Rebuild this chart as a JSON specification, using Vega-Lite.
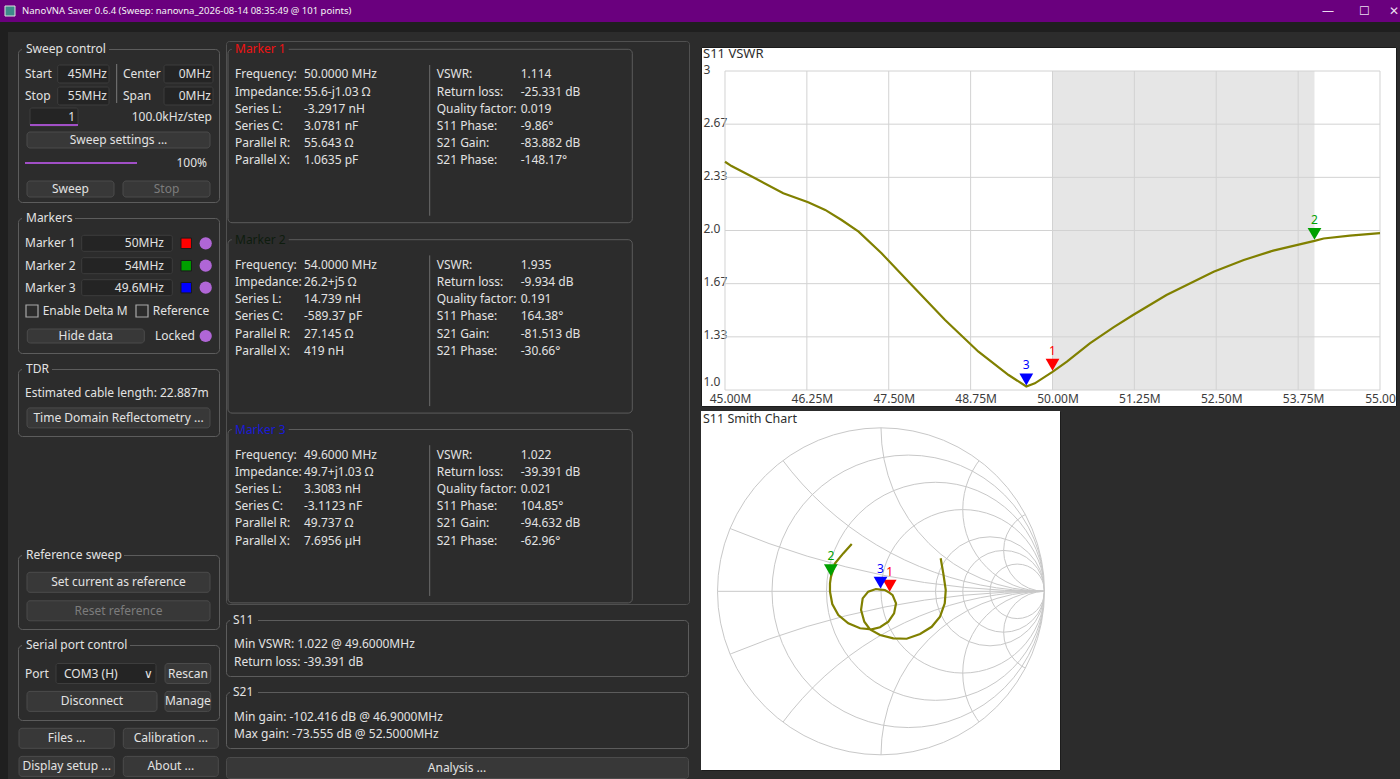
{
"$schema": "https://vega.github.io/schema/vega-lite/v6.json",
"background": "#2c2c2c",
"padding": 0,
"bounds": "full",
"spacing": 0,
"config": {
  "view": {"stroke": "#5c5c5c", "cornerRadius": 4, "strokeWidth": 1},
  "text": {"font": "Segoe UI, Noto Sans, sans-serif", "fontSize": 12, "baseline": "middle", "color": "#e2e2e2"},
  "title": {"font": "Segoe UI, Noto Sans, sans-serif", "fontWeight": "normal"},
  "axis": {"labelFont": "Segoe UI, Noto Sans, sans-serif"}
},
"datasets": {
  "vswr": [
    {"f":45.0,"v":2.431},{"f":45.1,"v":2.404},{"f":45.46,"v":2.327},{"f":45.89,"v":2.233},{"f":46.27,"v":2.177},
    {"f":46.53,"v":2.129},{"f":46.78,"v":2.066},{"f":47.04,"v":1.993},{"f":47.39,"v":1.857},{"f":47.85,"v":1.658},
    {"f":48.36,"v":1.439},{"f":48.87,"v":1.24},{"f":49.33,"v":1.094},{"f":49.6,"v":1.022},{"f":49.73,"v":1.042},
    {"f":50.0,"v":1.114},{"f":50.22,"v":1.178},{"f":50.57,"v":1.293},{"f":50.93,"v":1.393},{"f":51.23,"v":1.47},
    {"f":51.74,"v":1.596},{"f":52.05,"v":1.658},{"f":52.46,"v":1.742},{"f":52.92,"v":1.815},{"f":53.37,"v":1.874},
    {"f":54.0,"v":1.935},{"f":54.14,"v":1.95},{"f":54.54,"v":1.968},{"f":55.0,"v":1.984}
  ],
  "mk": [
    {"id":"1","f":50.0,"v":1.114,"gr":0.053,"gi":-0.0092},
    {"id":"2","f":54.0,"v":1.935,"gr":-0.3067,"gi":0.0857},
    {"id":"3","f":49.6,"v":1.022,"gr":-0.003,"gi":0.0103}
  ],
  "band": [{"lo":50,"hi":54}],
  "xt": [{"f":45},{"f":46.25},{"f":47.5},{"f":48.75},{"f":50},{"f":51.25},{"f":52.5},{"f":53.75},{"f":55}],
  "yt": [{"v":1},{"v":1.3333},{"v":1.6667},{"v":2},{"v":2.3333},{"v":2.6667},{"v":3}],
  "sgrid": [
    {"cx":0,"cy":0,"rho":1,"kind":"o"},
    {"cx":0.16667,"cy":0,"rho":0.83333,"kind":"r"},
    {"cx":0.33333,"cy":0,"rho":0.66667,"kind":"r"},
    {"cx":0.5,"cy":0,"rho":0.5,"kind":"r"},
    {"cx":0.66667,"cy":0,"rho":0.33333,"kind":"r"},
    {"cx":0.75,"cy":0,"rho":0.25,"kind":"r"},
    {"cx":0.83333,"cy":0,"rho":0.16667,"kind":"r"},
    {"cx":1,"cy":5,"rho":5,"kind":"x"},{"cx":1,"cy":-5,"rho":5,"kind":"x"},
    {"cx":1,"cy":2,"rho":2,"kind":"x"},{"cx":1,"cy":-2,"rho":2,"kind":"x"},
    {"cx":1,"cy":1,"rho":1,"kind":"x"},{"cx":1,"cy":-1,"rho":1,"kind":"x"},
    {"cx":1,"cy":0.5,"rho":0.5,"kind":"x"},{"cx":1,"cy":-0.5,"rho":0.5,"kind":"x"},
    {"cx":1,"cy":0.25,"rho":0.25,"kind":"x"},{"cx":1,"cy":-0.25,"rho":0.25,"kind":"x"}
  ],
  "sm": [
    {"i":1,"gr":0.365,"gi":0.202},{"i":2,"gr":0.381,"gi":0.11},{"i":3,"gr":0.396,"gi":0.008},{"i":4,"gr":0.39,"gi":-0.073},
    {"i":5,"gr":0.361,"gi":-0.155},{"i":6,"gr":0.31,"gi":-0.217},{"i":7,"gr":0.239,"gi":-0.261},{"i":8,"gr":0.157,"gi":-0.29},
    {"i":9,"gr":0.075,"gi":-0.288},{"i":10,"gr":-0.006,"gi":-0.267},{"i":11,"gr":-0.067,"gi":-0.233},{"i":12,"gr":-0.102,"gi":-0.186},
    {"i":13,"gr":-0.122,"gi":-0.114},{"i":14,"gr":-0.112,"gi":-0.043},{"i":15,"gr":-0.078,"gi":-0.002},{"i":16,"gr":-0.031,"gi":0.014},
    {"i":17,"gr":-0.003,"gi":0.0103},{"i":18,"gr":0.024,"gi":0.008},{"i":19,"gr":0.053,"gi":-0.0092},{"i":20,"gr":0.071,"gi":-0.023},
    {"i":21,"gr":0.092,"gi":-0.073},{"i":22,"gr":0.08,"gi":-0.135},{"i":23,"gr":0.045,"gi":-0.186},{"i":24,"gr":-0.006,"gi":-0.22},
    {"i":25,"gr":-0.057,"gi":-0.233},{"i":26,"gr":-0.128,"gi":-0.226},{"i":27,"gr":-0.2,"gi":-0.196},{"i":28,"gr":-0.261,"gi":-0.145},
    {"i":29,"gr":-0.298,"gi":-0.078},{"i":30,"gr":-0.312,"gi":-0.002},{"i":31,"gr":-0.312,"gi":0.049},{"i":32,"gr":-0.3067,"gi":0.0857},
    {"i":33,"gr":-0.281,"gi":0.171},{"i":34,"gr":-0.231,"gi":0.232},{"i":35,"gr":-0.179,"gi":0.289}
  ],
  "mpanel": [
    {"m":1,"k":"box","c":0,"c2":1,"r":0,"r2":9},
    {"m":1,"k":"tl","c":0,"c2":1,"r":0,"t":"Marker 1"},
    {"m":1,"k":"dv","c":0,"r":7,"r2":8},
    {"m":1,"k":"f","c":0,"r":1,"lab":"Frequency:","val":"50.0000 MHz"},
    {"m":1,"k":"f","c":0,"r":2,"lab":"Impedance:","val":"55.6-j1.03 Ω"},
    {"m":1,"k":"f","c":0,"r":3,"lab":"Series L:","val":"-3.2917 nH"},
    {"m":1,"k":"f","c":0,"r":4,"lab":"Series C:","val":"3.0781 nF"},
    {"m":1,"k":"f","c":0,"r":5,"lab":"Parallel R:","val":"55.643 Ω"},
    {"m":1,"k":"f","c":0,"r":6,"lab":"Parallel X:","val":"1.0635 pF"},
    {"m":1,"k":"f","c":1,"r":1,"lab":"VSWR:","val":"1.114"},
    {"m":1,"k":"f","c":1,"r":2,"lab":"Return loss:","val":"-25.331 dB"},
    {"m":1,"k":"f","c":1,"r":3,"lab":"Quality factor:","val":"0.019"},
    {"m":1,"k":"f","c":1,"r":4,"lab":"S11 Phase:","val":"-9.86°"},
    {"m":1,"k":"f","c":1,"r":5,"lab":"S21 Gain:","val":"-83.882 dB"},
    {"m":1,"k":"f","c":1,"r":6,"lab":"S21 Phase:","val":"-148.17°"},
    {"m":2,"k":"box","c":0,"c2":1,"r":10,"r2":19},
    {"m":2,"k":"tl","c":0,"c2":1,"r":10,"t":"Marker 2"},
    {"m":2,"k":"dv","c":0,"r":17,"r2":18},
    {"m":2,"k":"f","c":0,"r":11,"lab":"Frequency:","val":"54.0000 MHz"},
    {"m":2,"k":"f","c":0,"r":12,"lab":"Impedance:","val":"26.2+j5 Ω"},
    {"m":2,"k":"f","c":0,"r":13,"lab":"Series L:","val":"14.739 nH"},
    {"m":2,"k":"f","c":0,"r":14,"lab":"Series C:","val":"-589.37 pF"},
    {"m":2,"k":"f","c":0,"r":15,"lab":"Parallel R:","val":"27.145 Ω"},
    {"m":2,"k":"f","c":0,"r":16,"lab":"Parallel X:","val":"419 nH"},
    {"m":2,"k":"f","c":1,"r":11,"lab":"VSWR:","val":"1.935"},
    {"m":2,"k":"f","c":1,"r":12,"lab":"Return loss:","val":"-9.934 dB"},
    {"m":2,"k":"f","c":1,"r":13,"lab":"Quality factor:","val":"0.191"},
    {"m":2,"k":"f","c":1,"r":14,"lab":"S11 Phase:","val":"164.38°"},
    {"m":2,"k":"f","c":1,"r":15,"lab":"S21 Gain:","val":"-81.513 dB"},
    {"m":2,"k":"f","c":1,"r":16,"lab":"S21 Phase:","val":"-30.66°"},
    {"m":3,"k":"box","c":0,"c2":1,"r":20,"r2":29},
    {"m":3,"k":"tl","c":0,"c2":1,"r":20,"t":"Marker 3"},
    {"m":3,"k":"dv","c":0,"r":27,"r2":28},
    {"m":3,"k":"f","c":0,"r":21,"lab":"Frequency:","val":"49.6000 MHz"},
    {"m":3,"k":"f","c":0,"r":22,"lab":"Impedance:","val":"49.7+j1.03 Ω"},
    {"m":3,"k":"f","c":0,"r":23,"lab":"Series L:","val":"3.3083 nH"},
    {"m":3,"k":"f","c":0,"r":24,"lab":"Series C:","val":"-3.1123 nF"},
    {"m":3,"k":"f","c":0,"r":25,"lab":"Parallel R:","val":"49.737 Ω"},
    {"m":3,"k":"f","c":0,"r":26,"lab":"Parallel X:","val":"7.6956 µH"},
    {"m":3,"k":"f","c":1,"r":21,"lab":"VSWR:","val":"1.022"},
    {"m":3,"k":"f","c":1,"r":22,"lab":"Return loss:","val":"-39.391 dB"},
    {"m":3,"k":"f","c":1,"r":23,"lab":"Quality factor:","val":"0.021"},
    {"m":3,"k":"f","c":1,"r":24,"lab":"S11 Phase:","val":"104.85°"},
    {"m":3,"k":"f","c":1,"r":25,"lab":"S21 Gain:","val":"-94.632 dB"},
    {"m":3,"k":"f","c":1,"r":26,"lab":"S21 Phase:","val":"-62.96°"}
  ]
},
"vconcat": [
  {
    "width": 1400, "height": 22,
    "view": {"fill": "#6a007e", "stroke": null, "cornerRadius": 0},
    "data": {"values": [
      {"s":0,"k":"icon"},
      {"s":1,"k":"title","t":"NanoVNA Saver 0.6.4 (Sweep: nanovna_2026-08-14 08:35:49 @ 101 points)"},
      {"s":2,"k":"ctl","t":"—"},
      {"s":3,"k":"ctl","t":"☐"},
      {"s":4,"k":"ctl","t":"✕"}
    ]},
    "encoding": {"x": {"field":"s","type":"quantitative","axis":null,"scale":{"domain":[0,1,2,3,4],"range":[10,22,1328,1364,1394],"nice":false,"zero":false}}},
    "layer": [
      {"transform":[{"filter":"datum.k=='icon'"}],"mark":{"type":"point","shape":"square","filled":true,"size":100,"color":"#3d8a8a","stroke":"#e0e0e0","strokeWidth":1,"opacity":1}},
      {"transform":[{"filter":"datum.k=='title'"}],"mark":{"type":"text","align":"left","fontSize":9.5,"color":"#f4f4f4"},"encoding":{"text":{"field":"t"}}},
      {"transform":[{"filter":"datum.k=='ctl'"}],"mark":{"type":"text","align":"center","fontSize":12,"color":"#eadcf0"},"encoding":{"text":{"field":"t"}}}
    ]
  },
  {"width": 1400, "height": 10, "view": {"fill": "#1f1f1f", "stroke": null, "cornerRadius": 0}, "data": {"values": []}, "mark": "point"},
  {
    "hconcat": [
      {"width": 8, "height": 747, "view": {"fill": "#1f1f1f", "stroke": null, "cornerRadius": 0}, "data": {"values": []}, "mark": "point"},
      {"width": 9, "height": 1, "view": {"stroke": null}, "data": {"values": []}, "mark": "point"},
      {
        "vconcat": [
          {"width": 1, "height": 17, "view": {"stroke": null}, "data": {"values": []}, "mark": "point"},
          {
            "width": 201, "height": 153,
            "data": {"values": [
              {"k":"tb","a":21,"b":22,"y":0},
              {"k":"tl","t":"Sweep control","a":23,"y":0},
              {"k":"l","t":"Start","a":0,"y":1},
              {"k":"l","t":"Stop","a":0,"y":2},
              {"k":"l","t":"Center","a":5,"y":1},
              {"k":"l","t":"Span","a":5,"y":2},
              {"k":"inp","a":1,"b":2,"y":1},
              {"k":"inp","a":1,"b":2,"y":2},
              {"k":"inp","a":6,"b":7,"y":1},
              {"k":"inp","a":6,"b":7,"y":2},
              {"k":"inp","a":9,"b":10,"y":3},
              {"k":"r","t":"45MHz","b":3,"y":1},
              {"k":"r","t":"55MHz","b":3,"y":2},
              {"k":"r","t":"0MHz","b":8,"y":1},
              {"k":"r","t":"0MHz","b":8,"y":2},
              {"k":"r","t":"1","b":11,"y":3},
              {"k":"r","t":"100.0kHz/step","b":12,"y":3},
              {"k":"r","t":"100%","b":17,"y":5},
              {"k":"vl","a":4,"y":7,"y2":8},
              {"k":"pl","a":9,"b":10,"y":9},
              {"k":"pl","a":0,"b":16,"y":5},
              {"k":"btn","t":"Sweep settings ...","a":13,"b":14,"c":15,"y":4},
              {"k":"btn","t":"Sweep","a":13,"b":18,"c":19,"y":6},
              {"k":"btnd","t":"Stop","a":5,"b":14,"c":20,"y":6}
            ]},
            "encoding": {
              "x": {"field":"a","type":"quantitative","axis":null,"scale":{"nice":false,"zero":false,"domain":[0,1,2,3,4,5,6,7,8,9,10,11,12,13,14,15,16,17,18,19,20,21,22,23],"range":[7,39.7,91,89,98.7,105,146,195,193,12,60,57,194,9,192,100.5,119,189,96,52.5,148.5,4,91,8]}},
              "y": {"field":"y","type":"quantitative","axis":null,"scale":{"nice":false,"zero":false,"domain":[0,1,2,3,4,5,6,7,8,9],"range":[0,25,47,68,91,114,140,15,54,76]}}
            },
            "layer": [
              {"transform":[{"filter":"datum.k=='tb'"}],"mark":{"type":"rect","fill":"#2c2c2c","yOffset":-3,"y2Offset":3},"encoding":{"x2":{"field":"b"},"y2":{"field":"y"}}},
              {"transform":[{"filter":"datum.k=='inp'"}],"mark":{"type":"rect","fill":"#242424","stroke":"#3d3d3d","cornerRadius":2,"yOffset":-9,"y2Offset":9},"encoding":{"x2":{"field":"b"},"y2":{"field":"y"}}},
              {"transform":[{"filter":"datum.k=='btn'||datum.k=='btnd'"}],"mark":{"type":"rect","fill":"#383838","stroke":"#4b4b4b","cornerRadius":3,"yOffset":-8,"y2Offset":8},"encoding":{"x2":{"field":"b"},"y2":{"field":"y"}}},
              {"transform":[{"filter":"datum.k=='vl'"}],"mark":{"type":"rule","color":"#7a7a7a"},"encoding":{"y2":{"field":"y2"}}},
              {"transform":[{"filter":"datum.k=='pl'"}],"mark":{"type":"rule","color":"#a14fc6","strokeWidth":2},"encoding":{"x2":{"field":"b"}}},
              {"transform":[{"filter":"datum.k=='l'||datum.k=='tl'"}],"mark":{"type":"text","align":"left"},"encoding":{"text":{"field":"t"}}},
              {"transform":[{"filter":"datum.k=='r'"}],"mark":{"type":"text","align":"right"},"encoding":{"x":{"field":"b","type":"quantitative","axis":null},"text":{"field":"t"}}},
              {"transform":[{"filter":"datum.k=='btn'||datum.k=='btnd'"}],"mark":{"type":"text","align":"center"},"encoding":{"x":{"field":"c","type":"quantitative","axis":null},"text":{"field":"t"},"color":{"condition":{"test":"datum.k=='btnd'","value":"#7c7c7c"},"value":"#e2e2e2"}}}
            ]
          },
          {"width": 1, "height": 16, "view": {"stroke": null}, "data": {"values": []}, "mark": "point"},
          {
            "width": 201, "height": 135,
            "data": {"values": [
              {"k":"tb","a":14,"b":15,"y":0},
              {"k":"tl","t":"Markers","a":16,"y":0},
              {"k":"l","t":"Marker 1","a":0,"y":1},
              {"k":"l","t":"Marker 2","a":0,"y":2},
              {"k":"l","t":"Marker 3","a":0,"y":3},
              {"k":"inp","a":1,"b":2,"y":1},
              {"k":"inp","a":1,"b":2,"y":2},
              {"k":"inp","a":1,"b":2,"y":3},
              {"k":"r","t":"50MHz","b":3,"y":1},
              {"k":"r","t":"54MHz","b":3,"y":2},
              {"k":"r","t":"49.6MHz","b":3,"y":3},
              {"k":"sq","a":4,"y":1,"m":"1"},
              {"k":"sq","a":4,"y":2,"m":"2"},
              {"k":"sq","a":4,"y":3,"m":"3"},
              {"k":"ci","a":5,"y":1},
              {"k":"ci","a":5,"y":2},
              {"k":"ci","a":5,"y":3},
              {"k":"ci","a":5,"y":5},
              {"k":"cb","a":6,"y":4},
              {"k":"cb","a":8,"y":4},
              {"k":"l","t":"Enable Delta M","a":7,"y":4},
              {"k":"l","t":"Reference","a":9,"y":4},
              {"k":"btn","t":"Hide data","a":10,"b":11,"c":12,"y":5},
              {"k":"l","t":"Locked","a":13,"y":5}
            ]},
            "encoding": {
              "x": {"field":"a","type":"quantitative","axis":null,"scale":{"nice":false,"zero":false,"domain":[0,1,2,3,4,5,6,7,8,9,10,11,12,13,14,15,16],"range":[7,63.7,154.3,146,168.2,187.7,14,24.7,124,134.7,9.3,126.3,67.8,137,4,57,8]}},
              "y": {"field":"y","type":"quantitative","axis":null,"scale":{"nice":false,"zero":false,"domain":[0,1,2,3,4,5],"range":[0,25.3,47.7,69.7,93,118]}}
            },
            "layer": [
              {"transform":[{"filter":"datum.k=='tb'"}],"mark":{"type":"rect","fill":"#2c2c2c","yOffset":-3,"y2Offset":3},"encoding":{"x2":{"field":"b"},"y2":{"field":"y"}}},
              {"transform":[{"filter":"datum.k=='inp'"}],"mark":{"type":"rect","fill":"#242424","stroke":"#3d3d3d","cornerRadius":2,"yOffset":-8,"y2Offset":8},"encoding":{"x2":{"field":"b"},"y2":{"field":"y"}}},
              {"transform":[{"filter":"datum.k=='btn'"}],"mark":{"type":"rect","fill":"#383838","stroke":"#4b4b4b","cornerRadius":3,"yOffset":-7,"y2Offset":7},"encoding":{"x2":{"field":"b"},"y2":{"field":"y"}}},
              {"transform":[{"filter":"datum.k=='sq'"}],"mark":{"type":"point","shape":"square","filled":true,"size":110,"stroke":"#1a1a1a","strokeWidth":1,"opacity":1},"encoding":{"color":{"field":"m","type":"nominal","legend":null,"scale":{"domain":["1","2","3"],"range":["#ff0000","#00a000","#0000ff"]}}}},
              {"transform":[{"filter":"datum.k=='ci'"}],"mark":{"type":"point","shape":"circle","filled":true,"size":150,"color":"#b066d6","opacity":1}},
              {"transform":[{"filter":"datum.k=='cb'"}],"mark":{"type":"point","shape":"square","filled":false,"size":144,"color":"#a8a8a8","strokeWidth":1.2,"opacity":1}},
              {"transform":[{"filter":"datum.k=='l'||datum.k=='tl'"}],"mark":{"type":"text","align":"left"},"encoding":{"text":{"field":"t"}}},
              {"transform":[{"filter":"datum.k=='r'"}],"mark":{"type":"text","align":"right"},"encoding":{"x":{"field":"b","type":"quantitative","axis":null},"text":{"field":"t"}}},
              {"transform":[{"filter":"datum.k=='btn'"}],"mark":{"type":"text","align":"center"},"encoding":{"x":{"field":"c","type":"quantitative","axis":null},"text":{"field":"t"}}}
            ]
          },
          {"width": 1, "height": 16, "view": {"stroke": null}, "data": {"values": []}, "mark": "point"},
          {
            "width": 201, "height": 67,
            "data": {"values": [
              {"k":"tb","a":4,"b":5,"y":0},
              {"k":"tl","t":"TDR","a":6,"y":0},
              {"k":"l","t":"Estimated cable length: 22.887m","a":0,"y":1},
              {"k":"btn","t":"Time Domain Reflectometry ...","a":1,"b":2,"c":3,"y":2}
            ]},
            "encoding": {
              "x": {"field":"a","type":"quantitative","axis":null,"scale":{"nice":false,"zero":false,"domain":[0,1,2,3,4,5,6],"range":[7,9,192,100.5,4,34,8]}},
              "y": {"field":"y","type":"quantitative","axis":null,"scale":{"nice":false,"zero":false,"domain":[0,1,2],"range":[0,24.3,48.9]}}
            },
            "layer": [
              {"transform":[{"filter":"datum.k=='tb'"}],"mark":{"type":"rect","fill":"#2c2c2c","yOffset":-3,"y2Offset":3},"encoding":{"x2":{"field":"b"},"y2":{"field":"y"}}},
              {"transform":[{"filter":"datum.k=='btn'"}],"mark":{"type":"rect","fill":"#383838","stroke":"#4b4b4b","cornerRadius":3,"yOffset":-10,"y2Offset":10},"encoding":{"x2":{"field":"b"},"y2":{"field":"y"}}},
              {"transform":[{"filter":"datum.k=='l'||datum.k=='tl'"}],"mark":{"type":"text","align":"left"},"encoding":{"text":{"field":"t"}}},
              {"transform":[{"filter":"datum.k=='btn'"}],"mark":{"type":"text","align":"center"},"encoding":{"x":{"field":"c","type":"quantitative","axis":null},"text":{"field":"t"}}}
            ]
          },
          {"width": 1, "height": 119, "view": {"stroke": null}, "data": {"values": []}, "mark": "point"},
          {
            "width": 201, "height": 74,
            "data": {"values": [
              {"k":"tb","a":3,"b":4,"y":0},
              {"k":"tl","t":"Reference sweep","a":5,"y":0},
              {"k":"btn","t":"Set current as reference","a":0,"b":1,"c":2,"y":1},
              {"k":"btnd","t":"Reset reference","a":0,"b":1,"c":2,"y":2}
            ]},
            "encoding": {
              "x": {"field":"a","type":"quantitative","axis":null,"scale":{"nice":false,"zero":false,"domain":[0,1,2,3,4,5],"range":[9,192,100.5,4,106,8]}},
              "y": {"field":"y","type":"quantitative","axis":null,"scale":{"nice":false,"zero":false,"domain":[0,1,2],"range":[0,27.3,55.8]}}
            },
            "layer": [
              {"transform":[{"filter":"datum.k=='tb'"}],"mark":{"type":"rect","fill":"#2c2c2c","yOffset":-3,"y2Offset":3},"encoding":{"x2":{"field":"b"},"y2":{"field":"y"}}},
              {"transform":[{"filter":"datum.k=='btn'||datum.k=='btnd'"}],"mark":{"type":"rect","fill":"#383838","stroke":"#4b4b4b","cornerRadius":3,"yOffset":-10,"y2Offset":10},"encoding":{"x2":{"field":"b"},"y2":{"field":"y"}}},
              {"transform":[{"filter":"datum.k=='tl'"}],"mark":{"type":"text","align":"left"},"encoding":{"text":{"field":"t"}}},
              {"transform":[{"filter":"datum.k=='btn'||datum.k=='btnd'"}],"mark":{"type":"text","align":"center"},"encoding":{"x":{"field":"c","type":"quantitative","axis":null},"text":{"field":"t"},"color":{"condition":{"test":"datum.k=='btnd'","value":"#7c7c7c"},"value":"#e2e2e2"}}}
            ]
          },
          {"width": 1, "height": 16, "view": {"stroke": null}, "data": {"values": []}, "mark": "point"},
          {
            "width": 201, "height": 75,
            "data": {"values": [
              {"k":"tb","a":11,"b":12,"y":0},
              {"k":"tl","t":"Serial port control","a":13,"y":0},
              {"k":"l","t":"Port","a":0,"y":1},
              {"k":"inp","a":1,"b":2,"y":1},
              {"k":"l","t":"COM3 (H)","a":3,"y":1},
              {"k":"c","t":"∨","c":4,"y":1},
              {"k":"btn","t":"Rescan","a":5,"b":6,"c":7,"y":1},
              {"k":"btn","t":"Disconnect","a":8,"b":9,"c":10,"y":2},
              {"k":"btn","t":"Manage","a":5,"b":6,"c":7,"y":2}
            ]},
            "encoding": {
              "x": {"field":"a","type":"quantitative","axis":null,"scale":{"nice":false,"zero":false,"domain":[0,1,2,3,4,5,6,7,8,9,10,11,12,13],"range":[7,38,138,46,130,147,192.7,169.9,9,139,74,4,112,8]}},
              "y": {"field":"y","type":"quantitative","axis":null,"scale":{"nice":false,"zero":false,"domain":[0,1,2],"range":[0,28.5,56.4]}}
            },
            "layer": [
              {"transform":[{"filter":"datum.k=='tb'"}],"mark":{"type":"rect","fill":"#2c2c2c","yOffset":-3,"y2Offset":3},"encoding":{"x2":{"field":"b"},"y2":{"field":"y"}}},
              {"transform":[{"filter":"datum.k=='inp'"}],"mark":{"type":"rect","fill":"#242424","stroke":"#3d3d3d","cornerRadius":2,"yOffset":-10,"y2Offset":10},"encoding":{"x2":{"field":"b"},"y2":{"field":"y"}}},
              {"transform":[{"filter":"datum.k=='btn'"}],"mark":{"type":"rect","fill":"#383838","stroke":"#4b4b4b","cornerRadius":3,"yOffset":-10,"y2Offset":10},"encoding":{"x2":{"field":"b"},"y2":{"field":"y"}}},
              {"transform":[{"filter":"datum.k=='l'||datum.k=='tl'"}],"mark":{"type":"text","align":"left"},"encoding":{"text":{"field":"t"}}},
              {"transform":[{"filter":"datum.k=='btn'||datum.k=='c'"}],"mark":{"type":"text","align":"center"},"encoding":{"x":{"field":"c","type":"quantitative","axis":null},"text":{"field":"t"}}}
            ]
          },
          {"width": 1, "height": 8, "view": {"stroke": null}, "data": {"values": []}, "mark": "point"},
          {
            "width": 201, "height": 49,
            "view": {"stroke": null},
            "data": {"values": [
              {"k":"btn","t":"Files ...","a":0,"b":1,"c":2,"y":0},
              {"k":"btn","t":"Calibration ...","a":3,"b":4,"c":5,"y":0},
              {"k":"btn","t":"Display setup ...","a":0,"b":1,"c":2,"y":1},
              {"k":"btn","t":"About ...","a":3,"b":4,"c":5,"y":1}
            ]},
            "encoding": {
              "x": {"field":"a","type":"quantitative","axis":null,"scale":{"nice":false,"zero":false,"domain":[0,1,2,3,4,5],"range":[1,96.3,48.7,105.3,200.3,152.8]}},
              "y": {"field":"y","type":"quantitative","axis":null,"scale":{"nice":false,"zero":false,"domain":[0,1],"range":[10.3,38.4]}}
            },
            "layer": [
              {"mark":{"type":"rect","fill":"#383838","stroke":"#4b4b4b","cornerRadius":3,"yOffset":-10,"y2Offset":10},"encoding":{"x2":{"field":"b"},"y2":{"field":"y"}}},
              {"mark":{"type":"text","align":"center"},"encoding":{"x":{"field":"c","type":"quantitative","axis":null},"text":{"field":"t"}}}
            ]
          }
        ],
        "spacing": 0, "bounds": "flush"
      },
      {"width": 5, "height": 1, "view": {"stroke": null}, "data": {"values": []}, "mark": "point"},
      {
        "vconcat": [
          {"width": 1, "height": 9, "view": {"stroke": null}, "data": {"values": []}, "mark": "point"},
          {
            "width": 463, "height": 563,
            "view": {"stroke": "#505050", "cornerRadius": 3},
            "data": {"name": "mpanel"},
            "encoding": {"y": {"field":"r","type":"quantitative","axis":null,"scale":{"nice":false,"zero":false,"domain":[0,1,6,7,8,9,10,11,16,17,18,19,20,21,26,27,28,29],"range":[8.3,33.3,119.3,24,174.7,181.7,198.7,223.7,309.7,214.4,365.1,372.1,388.5,413.5,499.5,404.2,554.9,561.9]}}},
            "layer": [
              {"transform":[{"filter":"datum.k=='box'"}],"mark":{"type":"rect","fill":"transparent","stroke":"#5c5c5c","strokeWidth":1,"cornerRadius":4},"encoding":{"x":{"field":"c","type":"quantitative","axis":null,"scale":{"domain":[0,1],"range":[2,406.3],"nice":false,"zero":false}},"x2":{"field":"c2"},"y2":{"field":"r2"}}},
              {"transform":[{"filter":"datum.k=='tl'"}],"mark":{"type":"rect","fill":"#2c2c2c","yOffset":-3,"y2Offset":3},"encoding":{"x":{"field":"c","type":"quantitative","axis":null,"scale":{"domain":[0,1],"range":[5.7,62.7],"nice":false,"zero":false}},"x2":{"field":"c2"},"y2":{"field":"r"}}},
              {"transform":[{"filter":"datum.k=='tl'"}],"mark":{"type":"text","align":"left"},"encoding":{"x":{"field":"c","type":"quantitative","axis":null,"scale":{"domain":[0,1],"range":[9,210.7],"nice":false,"zero":false}},"text":{"field":"t"},"color":{"condition":[{"test":"datum.m==1","value":"#f01212"},{"test":"datum.m==2","value":"#0e1c0e"}],"value":"#1a1ad6"}}},
              {"transform":[{"filter":"datum.k=='dv'"}],"mark":{"type":"rule","color":"#6c6c6c"},"encoding":{"x":{"field":"c","type":"quantitative","axis":null,"scale":{"domain":[0,1],"range":[203.7,204],"nice":false,"zero":false}},"y2":{"field":"r2"}}},
              {"transform":[{"filter":"datum.k=='f'"}],"mark":{"type":"text","align":"left"},"encoding":{"x":{"field":"c","type":"quantitative","axis":null,"scale":{"domain":[0,1],"range":[9,210.7],"nice":false,"zero":false}},"text":{"field":"lab"}}},
              {"transform":[{"filter":"datum.k=='f'"}],"mark":{"type":"text","align":"left"},"encoding":{"x":{"field":"c","type":"quantitative","axis":null,"scale":{"domain":[0,1],"range":[78,294.7],"nice":false,"zero":false}},"text":{"field":"val"}}}
            ],
            "resolve": {"scale": {"x": "independent"}}
          },
          {"width": 1, "height": 16, "view": {"stroke": null}, "data": {"values": []}, "mark": "point"},
          {
            "width": 462, "height": 56,
            "data": {"values": [
              {"k":"tb","a":1,"b":2,"y":0},
              {"k":"tl","t":"S11","a":3,"y":0},
              {"k":"l","t":"Min VSWR:  1.022 @ 49.6000MHz","a":0,"y":1},
              {"k":"l","t":"Return loss: -39.391 dB","a":0,"y":2}
            ]},
            "encoding": {
              "x": {"field":"a","type":"quantitative","axis":null,"scale":{"nice":false,"zero":false,"domain":[0,1,2,3],"range":[8,4,32,7]}},
              "y": {"field":"y","type":"quantitative","axis":null,"scale":{"nice":false,"zero":false,"domain":[0,1,2],"range":[0,24.3,41.7]}}
            },
            "layer": [
              {"transform":[{"filter":"datum.k=='tb'"}],"mark":{"type":"rect","fill":"#2c2c2c","yOffset":-3,"y2Offset":3},"encoding":{"x2":{"field":"b"},"y2":{"field":"y"}}},
              {"transform":[{"filter":"datum.k!='tb'"}],"mark":{"type":"text","align":"left"},"encoding":{"text":{"field":"t"}}}
            ]
          },
          {"width": 1, "height": 16, "view": {"stroke": null}, "data": {"values": []}, "mark": "point"},
          {
            "width": 462, "height": 56,
            "data": {"values": [
              {"k":"tb","a":1,"b":2,"y":0},
              {"k":"tl","t":"S21","a":3,"y":0},
              {"k":"l","t":"Min gain:  -102.416 dB @ 46.9000MHz","a":0,"y":1},
              {"k":"l","t":"Max gain: -73.555 dB @ 52.5000MHz","a":0,"y":2}
            ]},
            "encoding": {
              "x": {"field":"a","type":"quantitative","axis":null,"scale":{"nice":false,"zero":false,"domain":[0,1,2,3],"range":[8,4,32,7]}},
              "y": {"field":"y","type":"quantitative","axis":null,"scale":{"nice":false,"zero":false,"domain":[0,1,2],"range":[0,25,42]}}
            },
            "layer": [
              {"transform":[{"filter":"datum.k=='tb'"}],"mark":{"type":"rect","fill":"#2c2c2c","yOffset":-3,"y2Offset":3},"encoding":{"x2":{"field":"b"},"y2":{"field":"y"}}},
              {"transform":[{"filter":"datum.k!='tb'"}],"mark":{"type":"text","align":"left"},"encoding":{"text":{"field":"t"}}}
            ]
          },
          {"width": 1, "height": 9, "view": {"stroke": null}, "data": {"values": []}, "mark": "point"},
          {
            "width": 462, "height": 21,
            "view": {"fill": "#383838", "stroke": "#4b4b4b", "cornerRadius": 3},
            "data": {"values": [{"t": "Analysis ..."}]},
            "mark": {"type": "text", "align": "center"},
            "encoding": {"text": {"field": "t"}}
          }
        ],
        "spacing": 0, "bounds": "flush"
      },
      {"width": 10, "height": 1, "view": {"stroke": null}, "data": {"values": []}, "mark": "point"},
      {
        "vconcat": [
          {"width": 1, "height": 15, "view": {"stroke": null}, "data": {"values": []}, "mark": "point"},
          {
            "width": 695, "height": 359,
            "view": {"fill": "#ffffff", "stroke": "#1c1c1c", "cornerRadius": 0},
            "layer": [
              {"data": {"name": "band"}, "mark": {"type": "rect", "color": "#e6e6e6"}, "encoding": {"x": {"field": "lo", "type": "quantitative"}, "x2": {"field": "hi"}, "y": {"datum": 1, "type": "quantitative"}, "y2": {"datum": 3}}},
              {"data": {"name": "xt"}, "mark": {"type": "rule", "color": "#d2d2d2", "strokeWidth": 1}, "encoding": {"x": {"field": "f", "type": "quantitative"}, "y": {"datum": 1, "type": "quantitative"}, "y2": {"datum": 3}}},
              {"data": {"name": "yt"}, "mark": {"type": "rule", "color": "#d2d2d2", "strokeWidth": 1}, "encoding": {"y": {"field": "v", "type": "quantitative"}, "x": {"datum": 45, "type": "quantitative"}, "x2": {"datum": 55}}},
              {"data": {"name": "vswr"}, "mark": {"type": "line", "color": "#808000", "strokeWidth": 2.2}, "encoding": {
                "x": {"field": "f", "type": "quantitative", "scale": {"domain": [44.6336, 55.2443], "nice": false, "zero": false},
                      "axis": {"orient": "bottom", "offset": -16, "values": [45,46.25,47.5,48.75,50,51.25,52.5,53.75,55], "labelExpr": "datum.value==55 ? '55.00' : format(datum.value,'.2f')+'M'", "domain": false, "ticks": false, "tickSize": 0, "grid": false, "title": null, "labelPadding": 8, "labelBaseline": "middle", "labelAlign": "center", "labelOffset": {"condition": {"test": "datum.value==55", "value": 0}, "value": 5}, "labelFlush": false, "labelOverlap": false, "labelFontSize": 12, "labelColor": "#3c3c3c"}},
                "y": {"field": "v", "type": "quantitative", "scale": {"domain": [0.8997, 3.1505], "nice": false, "zero": false},
                      "axis": {"orient": "left", "values": [1,1.3333,1.6667,2,2.3333,2.6667,3], "labelExpr": "datum.value==3 ? '3' : (abs(datum.value-round(datum.value))<0.01 ? format(datum.value,'.1f') : format(datum.value,'.2f'))", "domain": false, "ticks": false, "tickSize": 0, "grid": false, "title": null, "labelPadding": -2, "labelAlign": "left", "labelBaseline": "middle", "labelOffset": {"condition": {"test": "datum.value==1", "value": -9}, "value": -2}, "labelFlush": false, "labelOverlap": false, "labelFontSize": 12, "labelColor": "#3c3c3c"}}
              }},
              {"data": {"name": "mk"}, "mark": {"type": "point", "shape": "triangle-down", "filled": true, "size": 190, "yOffset": -7, "opacity": 1}, "encoding": {"x": {"field": "f", "type": "quantitative"}, "y": {"field": "v", "type": "quantitative"}, "color": {"field": "id", "type": "nominal", "legend": null, "scale": {"domain": ["1","2","3"], "range": ["#ff0000","#00a000","#0000ff"]}}}},
              {"data": {"name": "mk"}, "mark": {"type": "text", "fontSize": 12, "yOffset": -21, "align": "center"}, "encoding": {"x": {"field": "f", "type": "quantitative"}, "y": {"field": "v", "type": "quantitative"}, "text": {"field": "id"}, "color": {"field": "id", "type": "nominal", "legend": null}}},
              {"data": {"values": [{"t": "S11 VSWR"}]}, "mark": {"type": "text", "align": "left", "fontSize": 13, "color": "#2e2e2e"}, "encoding": {"x": {"datum": 44.664, "type": "quantitative"}, "y": {"datum": 3.1047, "type": "quantitative"}, "text": {"field": "t"}}}
            ]
          },
          {"width": 1, "height": 5, "view": {"stroke": null}, "data": {"values": []}, "mark": "point"},
          {
            "width": 359, "height": 359,
            "view": {"fill": "#ffffff", "stroke": "#1c1c1c", "cornerRadius": 0},
            "layer": [
              {"data": {"name": "sgrid"}, "transform": [{"filter": "datum.kind!='o'"}], "mark": {"type": "point", "shape": "circle", "filled": false, "color": "#c8c8c8", "strokeWidth": 1, "opacity": 1, "clip": true}, "encoding": {
                "x": {"field": "cx", "type": "quantitative", "axis": null, "scale": {"domain": [-1.1009, 1.0948], "nice": false, "zero": false}},
                "y": {"field": "cy", "type": "quantitative", "axis": null, "scale": {"domain": [-1.093, 1.103], "nice": false, "zero": false}},
                "size": {"field": "rho", "type": "quantitative", "legend": null, "scale": {"type": "pow", "exponent": 2, "domain": [0, 1], "range": [0, 106916], "zero": true}}}},
              {"data": {"values": [{}]}, "mark": {"type": "point", "shape": "circle", "filled": false, "color": "#ffffff", "strokeWidth": 100, "size": 182329, "opacity": 1, "clip": true}, "encoding": {"x": {"datum": 0, "type": "quantitative", "axis": null}, "y": {"datum": 0, "type": "quantitative", "axis": null}}},
              {"data": {"name": "sgrid"}, "transform": [{"filter": "datum.kind=='o'"}], "mark": {"type": "point", "shape": "circle", "filled": false, "color": "#c8c8c8", "strokeWidth": 1, "opacity": 1}, "encoding": {"x": {"field": "cx", "type": "quantitative", "axis": null}, "y": {"field": "cy", "type": "quantitative", "axis": null}, "size": {"field": "rho", "type": "quantitative", "legend": null}}},
              {"data": {"values": [{}]}, "mark": {"type": "rule", "color": "#c8c8c8", "strokeWidth": 1}, "encoding": {"x": {"datum": -1, "type": "quantitative", "axis": null}, "x2": {"datum": 1}, "y": {"datum": 0, "type": "quantitative", "axis": null}}},
              {"data": {"name": "sm"}, "mark": {"type": "line", "color": "#808000", "strokeWidth": 2.2}, "encoding": {"x": {"field": "gr", "type": "quantitative", "axis": null}, "y": {"field": "gi", "type": "quantitative", "axis": null}, "order": {"field": "i", "type": "quantitative"}}},
              {"data": {"name": "mk"}, "mark": {"type": "point", "shape": "triangle-down", "filled": true, "size": 190, "yOffset": -7, "opacity": 1}, "encoding": {"x": {"field": "gr", "type": "quantitative", "axis": null}, "y": {"field": "gi", "type": "quantitative", "axis": null}, "color": {"field": "id", "type": "nominal", "legend": null, "scale": {"domain": ["1","2","3"], "range": ["#ff0000","#00a000","#0000ff"]}}}},
              {"data": {"name": "mk"}, "mark": {"type": "text", "fontSize": 12, "yOffset": -21, "align": "center"}, "encoding": {"x": {"field": "gr", "type": "quantitative", "axis": null}, "y": {"field": "gi", "type": "quantitative", "axis": null}, "text": {"field": "id"}, "color": {"field": "id", "type": "nominal", "legend": null}}},
              {"data": {"values": [{"t": "S11 Smith Chart"}]}, "mark": {"type": "text", "align": "left", "fontSize": 12.5, "color": "#2e2e2e"}, "encoding": {"x": {"datum": -1.0887, "type": "quantitative", "axis": null}, "y": {"datum": 1.054, "type": "quantitative", "axis": null}, "text": {"field": "t"}}}
            ]
          }
        ],
        "spacing": 0, "bounds": "flush"
      },
      {"width": 3, "height": 1, "view": {"stroke": null}, "data": {"values": []}, "mark": "point"}
    ],
    "spacing": 0, "bounds": "full"
  }
]
}
